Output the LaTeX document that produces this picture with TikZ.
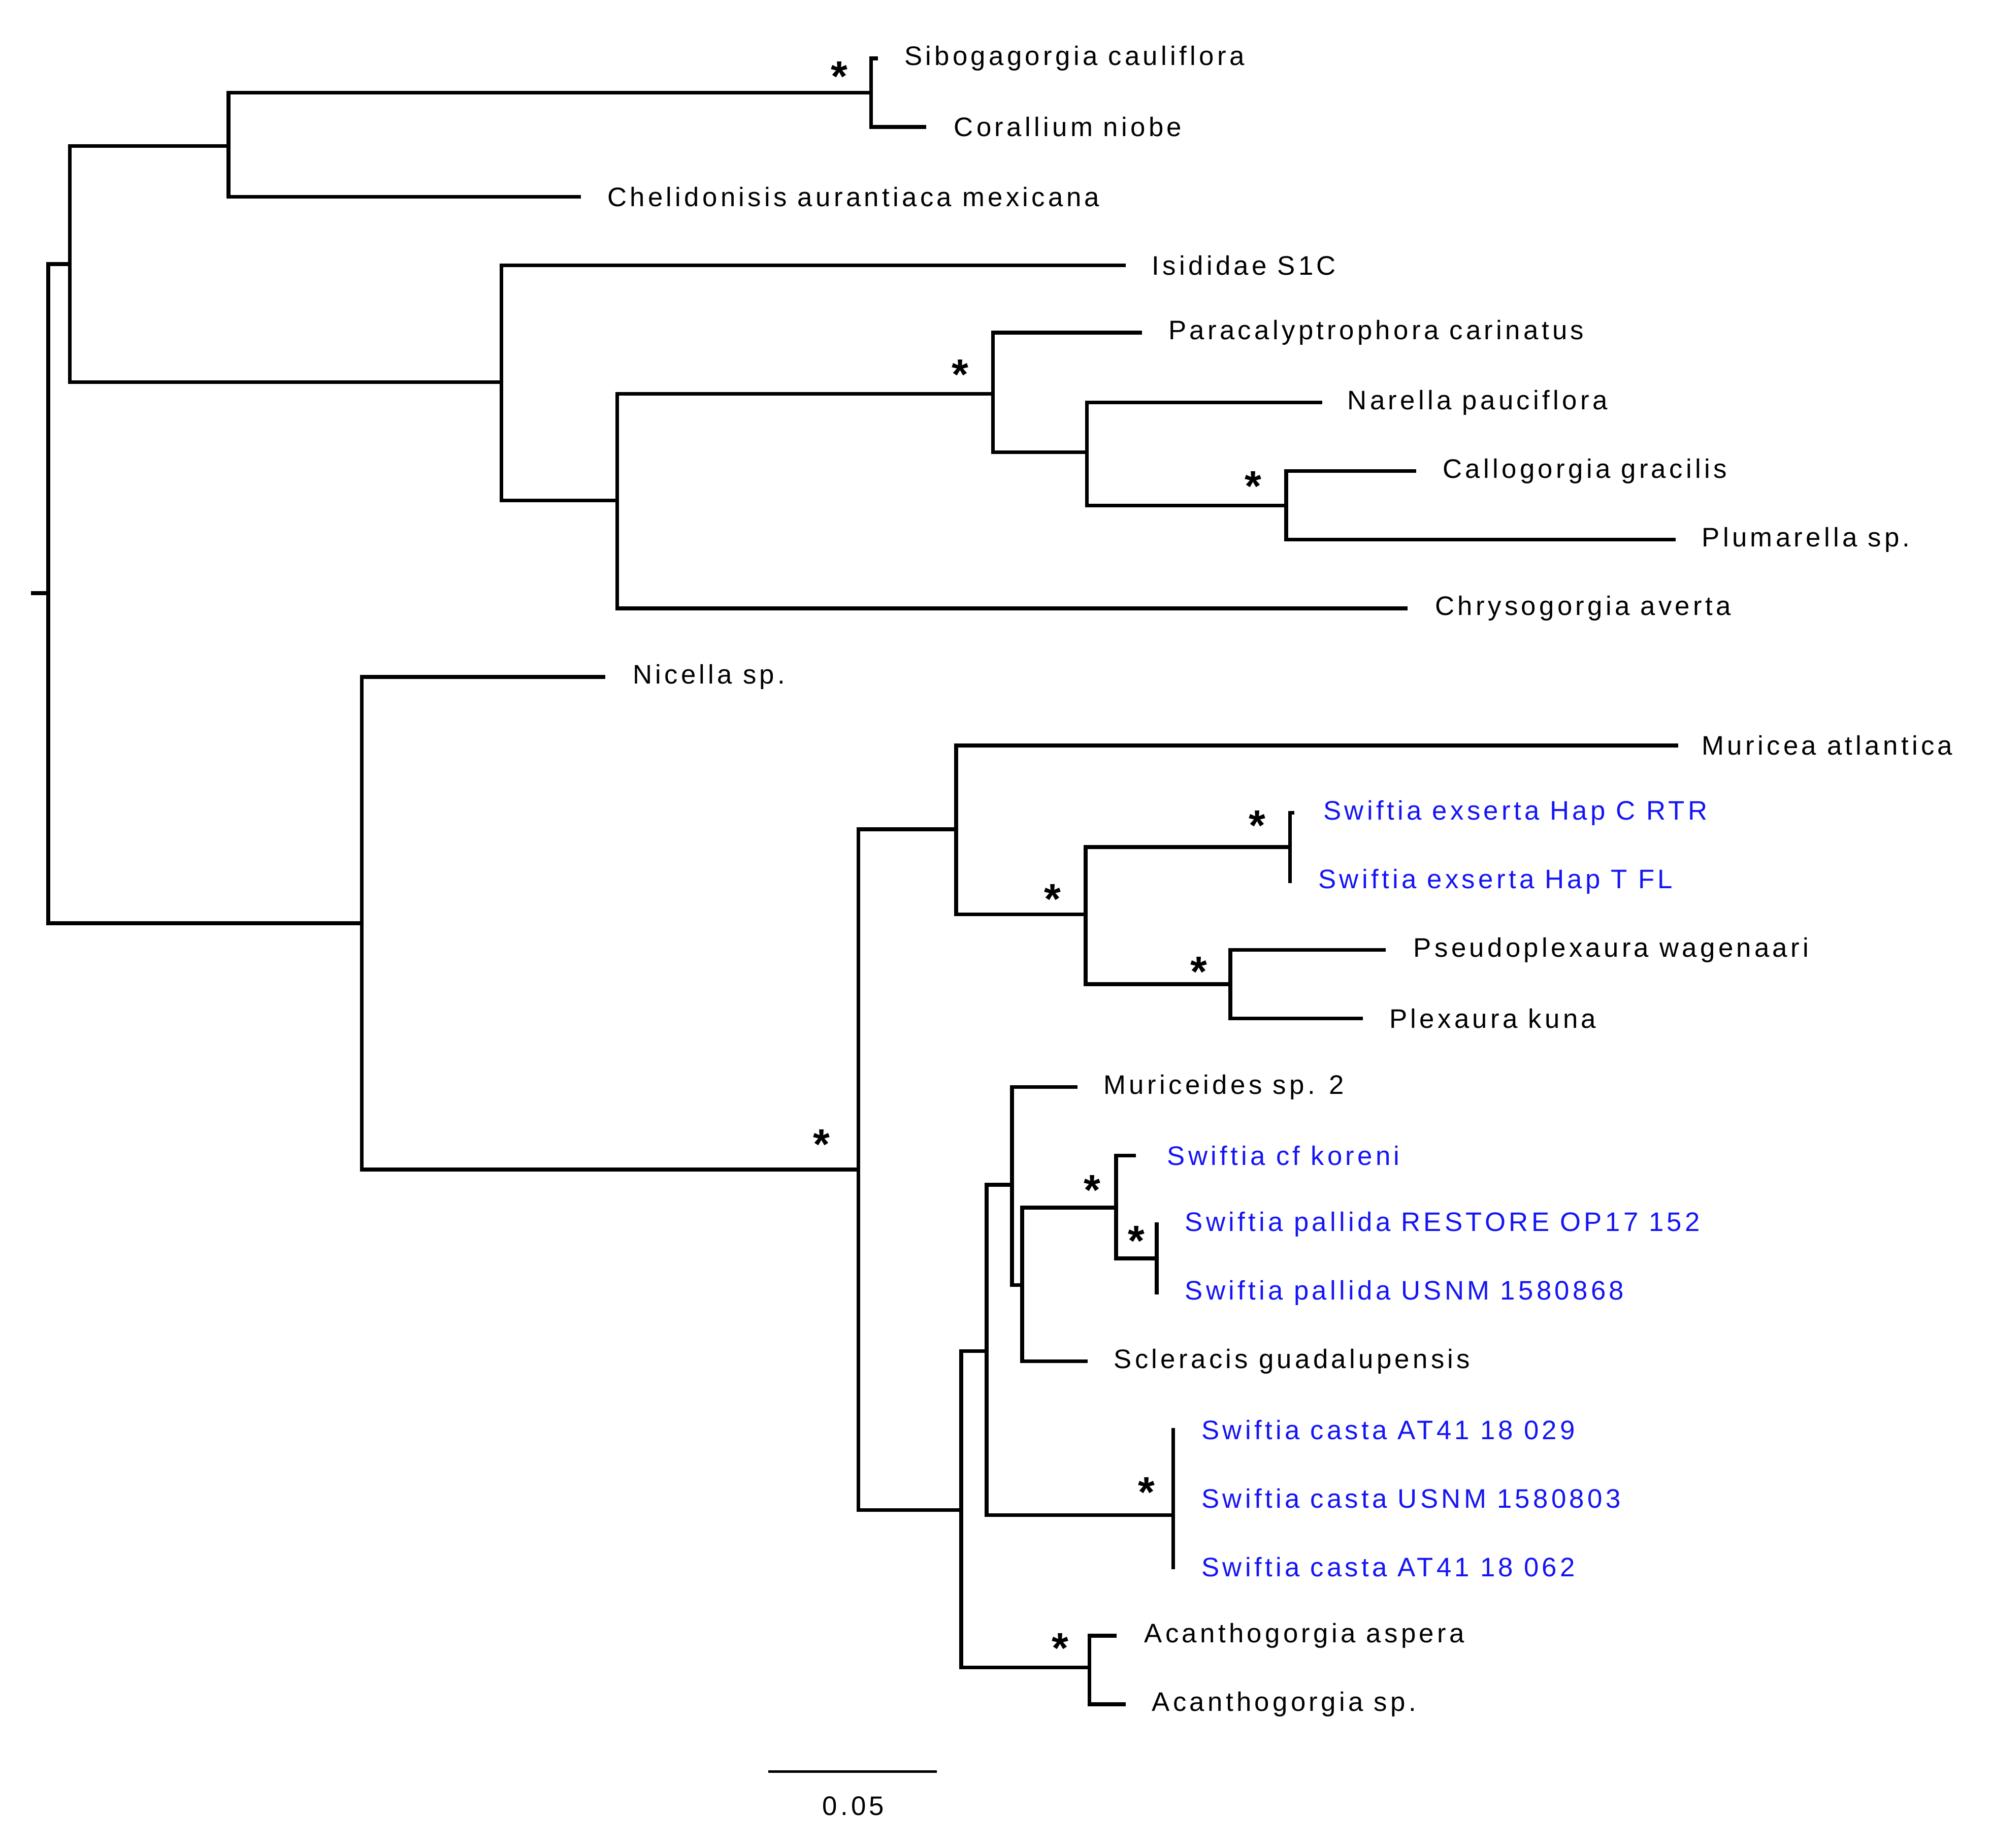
\documentclass[tikz,border=0pt]{standalone}
\usepackage{fontspec}
\setmainfont{Liberation Sans}[LetterSpace=12]
\begin{document}
\begin{tikzpicture}[x=0.025cm,y=-0.025cm,
  br/.style={line width=2.1pt,line cap=rect},
  lab/.style={anchor=west,inner sep=0pt,font=\fontsize{15}{18}\selectfont},
  blu/.style={lab,text={rgb,255:red,20;green,20;blue,245}},
  st/.style={inner sep=0pt,font=\fontsize{24}{24}\selectfont\bfseries}]
\useasboundingbox (0,0) rectangle (1568,1455);
% internal nodes (x, y of connection to parent)
\coordinate (root) at (38,467);
\coordinate (A) at (55,208);
\coordinate (B) at (180,115);
\coordinate (C) at (686,73);
\coordinate (D) at (395,301);
\coordinate (E) at (486,394);
\coordinate (F) at (782,310);
\coordinate (G) at (856,356);
\coordinate (H) at (1013,398);
\coordinate (I) at (285,727);
\coordinate (J) at (676,921);
\coordinate (K) at (753,653);
\coordinate (L) at (855,720);
\coordinate (M) at (1016,667);
\coordinate (N) at (969,775);
\coordinate (O) at (757,1189);
\coordinate (P) at (777,1064);
\coordinate (Q) at (797,933);
\coordinate (R) at (805,1012);
\coordinate (S) at (879,951);
\coordinate (T) at (911,991);
\coordinate (U) at (924,1193);
\coordinate (V) at (858,1313);
% tips
\coordinate (t1) at (690,46);  \coordinate (t2) at (728,100);
\coordinate (t3) at (456,155); \coordinate (t4) at (885,209);
\coordinate (t5) at (898,262); \coordinate (t6) at (1040,317);
\coordinate (t7) at (1114,371); \coordinate (t8) at (1318,425);
\coordinate (t9) at (1107,479); \coordinate (t10) at (475,533);
\coordinate (t11) at (1320,587); \coordinate (t12) at (1018,640);
\coordinate (t13) at (1016,694); \coordinate (t14) at (1090,748);
\coordinate (t15) at (1072,802); \coordinate (t16) at (847,856);
\coordinate (t17) at (893,910); \coordinate (t18) at (911,964);
\coordinate (t19) at (911,1018); \coordinate (t20) at (855,1072);
\coordinate (t21) at (924,1126); \coordinate (t22) at (924,1180);
\coordinate (t23) at (924,1234); \coordinate (t24) at (878,1288);
\coordinate (t25) at (885,1342);
% branches
\draw[br] (26,467) -- (root);
\draw[br] (root) |- (A); \draw[br] (root) |- (I);
\draw[br] (A) |- (B); \draw[br] (A) |- (D);
\draw[br] (B) |- (C); \draw[br] (B) |- (t3);
\draw[br] (C) |- (t1); \draw[br] (C) |- (t2);
\draw[br] (D) |- (t4); \draw[br] (D) |- (E);
\draw[br] (E) |- (F); \draw[br] (E) |- (t9);
\draw[br] (F) |- (t5); \draw[br] (F) |- (G);
\draw[br] (G) |- (t6); \draw[br] (G) |- (H);
\draw[br] (H) |- (t7); \draw[br] (H) |- (t8);
\draw[br] (I) |- (t10); \draw[br] (I) |- (J);
\draw[br] (J) |- (K); \draw[br] (J) |- (O);
\draw[br] (K) |- (t11); \draw[br] (K) |- (L);
\draw[br] (L) |- (M); \draw[br] (L) |- (N);
\draw[br] (M) |- (t12); \draw[br] (M) |- (t13);
\draw[br] (N) |- (t14); \draw[br] (N) |- (t15);
\draw[br] (O) |- (P); \draw[br] (O) |- (V);
\draw[br] (P) |- (Q); \draw[br] (P) |- (U);
\draw[br] (Q) |- (t16); \draw[br] (Q) |- (R);
\draw[br] (R) |- (S); \draw[br] (R) |- (t20);
\draw[br] (S) |- (t17); \draw[br] (S) |- (T);
\draw[br] (T) |- (t18); \draw[br] (T) |- (t19);
\draw[br] (U) |- (t21); \draw[br] (U) |- (t22); \draw[br] (U) |- (t23);
\draw[br] (V) |- (t24); \draw[br] (V) |- (t25);
% labels
\node[lab] (l1) at (712,46) {Sibogagorgia cauliflora};
\node[lab] (l2) at (751,100) {Corallium niobe};
\node[lab] (l3) at (478,155) {Chelidonisis aurantiaca mexicana};
\node[lab] (l4) at (907,209) {Isididae S1C};
\node[lab] (l5) at (920,262) {Paracalyptrophora carinatus};
\node[lab] (l6) at (1061,317) {Narella pauciflora};
\node[lab] (l7) at (1136,371) {Callogorgia gracilis};
\node[lab] (l8) at (1340,425) {Plumarella sp.};
\node[lab] (l9) at (1130,479) {Chrysogorgia averta};
\node[lab] (l10) at (498,533) {Nicella sp.};
\node[lab] (l11) at (1340,587) {Muricea atlantica};
\node[blu] (l12) at (1042,640) {Swiftia exserta Hap C RTR};
\node[blu] (l13) at (1038,694) {Swiftia exserta Hap T FL};
\node[lab] (l14) at (1113,748) {Pseudoplexaura wagenaari};
\node[lab] (l15) at (1094,802) {Plexaura kuna};
\node[lab] (l16) at (869,856) {Muriceides sp. 2};
\node[blu] (l17) at (919,910) {Swiftia cf koreni};
\node[blu] (l18) at (933,964) {Swiftia pallida RESTORE OP17 152};
\node[blu] (l19) at (933,1018) {Swiftia pallida USNM 1580868};
\node[lab] (l20) at (877,1072) {Scleracis guadalupensis};
\node[blu] (l21) at (946,1126) {Swiftia casta AT41 18 029};
\node[blu] (l22) at (946,1180) {Swiftia casta USNM 1580803};
\node[blu] (l23) at (946,1234) {Swiftia casta AT41 18 062};
\node[lab] (l24) at (901,1288) {Acanthogorgia aspera};
\node[lab] (l25) at (907,1342) {Acanthogorgia sp.};
% support stars
\foreach \x/\y [count=\i] in {661/60,756/295,987/383,647/901,829/708,990/650,944/765,860/937,895/977,903/1175,835/1298}
  \node[st] (s\i) at (\x,\y) {*};
% scale bar
\coordinate (sb1) at (605,1395); \coordinate (sb2) at (738,1395);
\draw[line width=1.2pt] (sb1) -- (sb2);
\node[inner sep=0pt,font=\fontsize{15}{18}\selectfont] (sbl) at (672,1422) {0.05};
\end{tikzpicture}
\end{document}
